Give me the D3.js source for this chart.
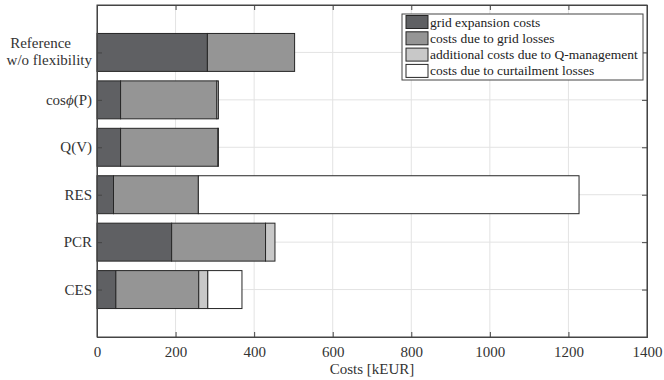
<!DOCTYPE html>
<html><head><meta charset="utf-8">
<script src="https://cdn.jsdelivr.net/npm/d3@7"></script>
<style>body{margin:0;background:#fff;}</style>
</head><body>
<svg id="c" width="664" height="380"></svg>
<script>
const categories = [["Reference","w/o flexibility"],["cos\u03d5(P)"],["Q(V)"],["RES"],["PCR"],["CES"]];
const seriesNames = ["grid expansion costs","costs due to grid losses","additional costs due to Q-management","costs due to curtailment losses"];
const gridExpansion = [281, 60, 60, 42, 190, 48];
const gridLosses    = [222, 245, 248, 216, 239, 211];
const qManagement   = [0, 4, 1, 0, 24, 23];
const curtailment   = [0, 0, 0, 969, 0, 87];
const xTicks = [0,200,400,600,800,1000,1200,1400];
const colors = ["#5f6063","#959595","#c8c8c8","#ffffff"];
const FONT = "'Liberation Serif', 'Times New Roman', serif";

const svg = d3.select("#c");
const L=97, R=647, T=5, B=337;
const x = d3.scaleLinear().domain([0,1400]).range([L,R]);
const y = d3.scaleLinear().domain([0,7]).range([T,B]);
const bh = y(0.8)-y(0);

// grid
svg.append("g").selectAll("line").data(xTicks).join("line")
  .attr("x1",d=>x(d)).attr("x2",d=>x(d)).attr("y1",T).attr("y2",B)
  .attr("stroke","#e3e3e3").attr("stroke-width",1);
svg.append("g").selectAll("line").data(categories).join("line")
  .attr("y1",(d,i)=>y(i+1)).attr("y2",(d,i)=>y(i+1)).attr("x1",L).attr("x2",R)
  .attr("stroke","#e3e3e3").attr("stroke-width",1);

// bars
const series = [gridExpansion, gridLosses, qManagement, curtailment];
categories.forEach((c,i)=>{
  let acc=0;
  series.forEach((s,k)=>{
    const v=s[i];
    if(v>0){
      svg.append("rect").attr("x",x(acc)).attr("width",x(acc+v)-x(acc))
        .attr("y",y(i+1)-bh/2).attr("height",bh)
        .attr("fill",colors[k]).attr("stroke","#262626").attr("stroke-width",1);
    }
    acc+=v;
  });
});

// box & axes
const ax = "#444";
svg.append("rect").attr("x",L).attr("y",T).attr("width",R-L).attr("height",B-T)
  .attr("fill","none").attr("stroke",ax).attr("stroke-width",1);
const xb = svg.append("g").attr("transform",`translate(0,${B})`)
  .call(d3.axisBottom(x).tickValues(xTicks).tickSize(-5).tickPadding(9).tickFormat(d3.format("d")));
const xt = svg.append("g").attr("transform",`translate(0,${T})`)
  .call(d3.axisTop(x).tickValues(xTicks).tickSize(-5).tickFormat(""));
const yl = svg.append("g").attr("transform",`translate(${L},0)`)
  .call(d3.axisLeft(y).tickValues([1,2,3,4,5,6]).tickSize(-5).tickFormat(""));
const yr = svg.append("g").attr("transform",`translate(${R},0)`)
  .call(d3.axisRight(y).tickValues([1,2,3,4,5,6]).tickSize(-5).tickFormat(""));
[xb,xt,yl,yr].forEach(g=>{
  g.select(".domain").attr("stroke",ax);
  g.selectAll(".tick line").attr("stroke",ax);
});
xb.selectAll(".tick text").attr("font-size",15).attr("fill","#333")
  .style("font-family",FONT);

// category labels
categories.forEach((c,i)=>{
  const n=c.length;
  c.forEach((line,j)=>{
    const ty = y(i+1)+(n>1 ? 4 + (j-(n-1)/2)*17 : 5);
    const lx = (n>1 && j===0) ? L-26 : L-5;
    const t = svg.append("text").attr("x",lx).attr("y",ty).attr("text-anchor","end")
      .attr("font-size",15).attr("fill","#333").style("font-family",FONT);
    if(line.includes("\u03d5")){
      const parts=line.split("\u03d5");
      t.append("tspan").text(parts[0]);
      t.append("tspan").attr("font-style","italic").text("\u03d5");
      t.append("tspan").text(parts[1]);
    } else {
      t.text(line);
    }
  });
});

// axis label
svg.append("text").attr("x",(L+R)/2).attr("y",374).attr("text-anchor","middle")
  .attr("font-size",15).attr("fill","#333").style("font-family",FONT).text("Costs [kEUR]");

// legend
const lg = svg.append("g");
lg.append("rect").attr("x",402).attr("y",14).attr("width",241).attr("height",66)
  .attr("fill","#fff").attr("stroke","#444");
seriesNames.forEach((n,k)=>{
  const cy = 22+k*16.3;
  lg.append("rect").attr("x",406).attr("y",cy-6.5).attr("width",22).attr("height",13)
    .attr("fill",colors[k]).attr("stroke","#262626");
  lg.append("text").attr("x",430).attr("y",cy+4.5).attr("font-size",13.5).attr("fill","#222")
    .style("font-family",FONT).text(n);
});
</script>
</body></html>
